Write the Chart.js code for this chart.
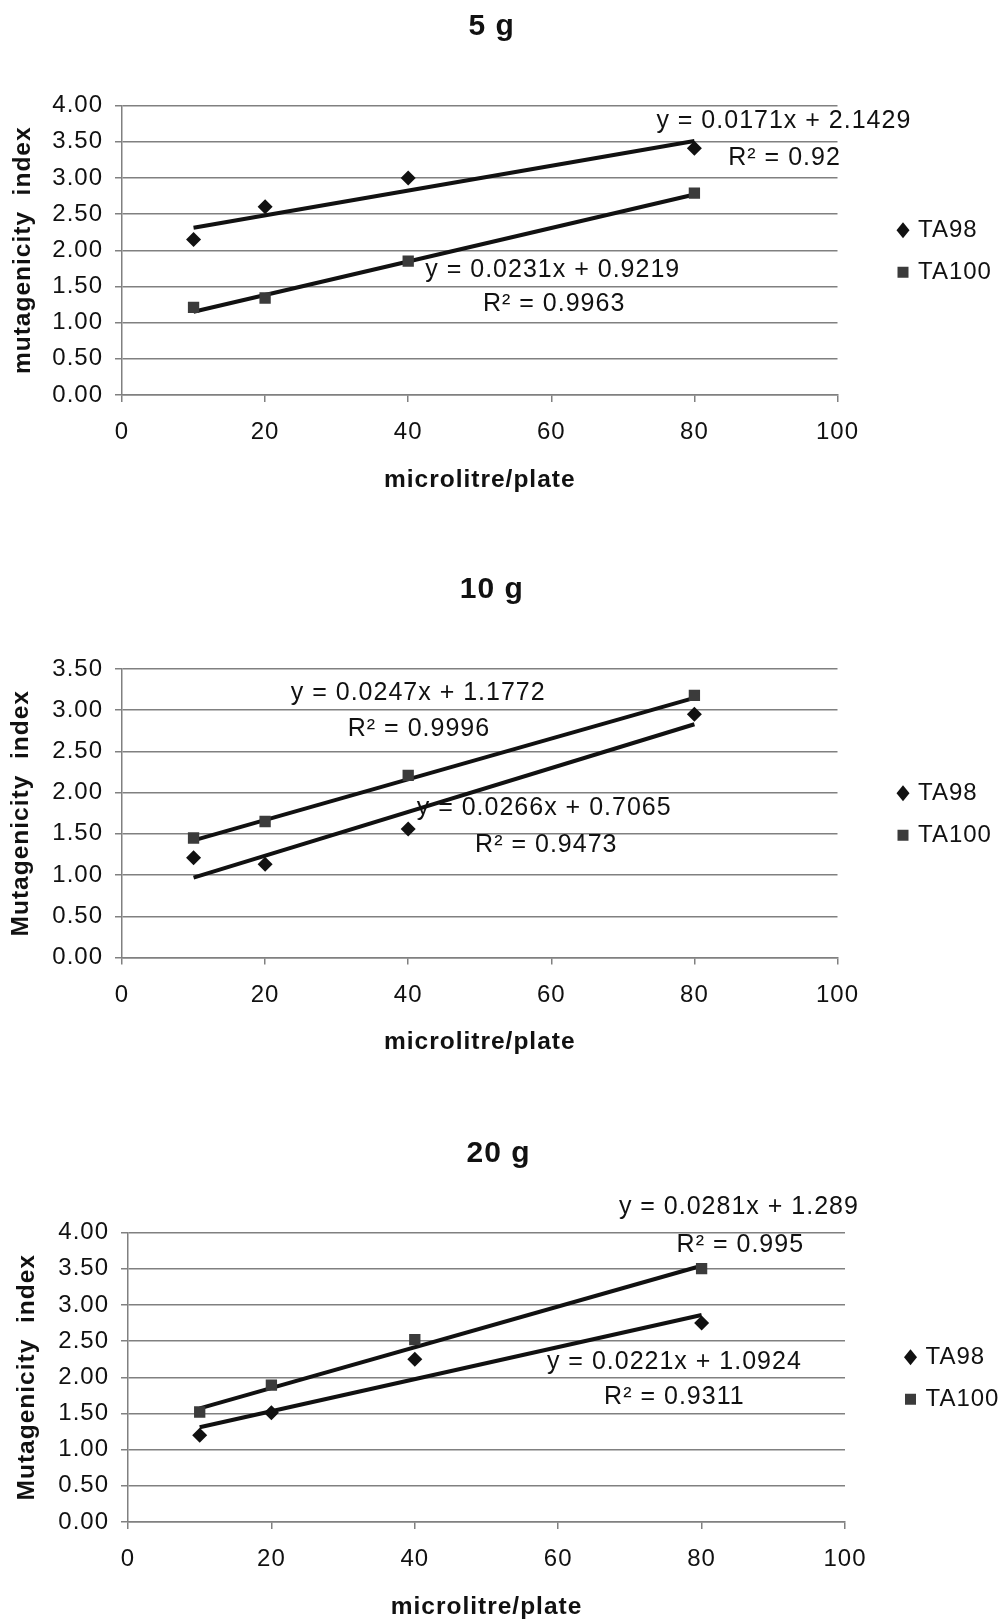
<!DOCTYPE html>
<html lang="en">
<head>
<meta charset="UTF-8" />
<title>Mutagenicity index - 5 g, 10 g, 20 g</title>
<script src="https://cdn.jsdelivr.net/npm/chart.js"></script>
<style>
  body { margin: 0; background: #fff; }
  #page { position: relative; width: 1001px; height: 1621px; }
  canvas { position: absolute; left: 0; }
</style>
</head>
<body>
<div id="page">
  <canvas id="chart5" width="1001" height="545" style="top:0"></canvas>
  <canvas id="chart10" width="1001" height="540" style="top:545px"></canvas>
  <canvas id="chart20" width="1001" height="536" style="top:1085px"></canvas>
</div>
<script>
// doses on the x axis and the two ends of each fitted line
const doses = [10, 20, 40, 80];
const trendX = [10, 80];
const seriesNames = ['TA98', 'TA100'];

// 5 g
const ta98_5g = [2.15, 2.60, 3.00, 3.41];
const ta100_5g = [1.21, 1.34, 1.85, 2.79];
const trend98_5g = [2.31, 3.51];
const trend100_5g = [1.15, 2.77];
const eqs_5g = ['y = 0.0171x + 2.1429', 'R\u00b2 = 0.92', 'y = 0.0231x + 0.9219', 'R\u00b2 = 0.9963'];

// 10 g
const ta98_10g = [1.21, 1.13, 1.56, 2.95];
const ta100_10g = [1.45, 1.65, 2.21, 3.18];
const trend98_10g = [0.97, 2.83];
const trend100_10g = [1.42, 3.15];
const eqs_10g = ['y = 0.0247x + 1.1772', 'R\u00b2 = 0.9996', 'y = 0.0266x + 0.7065', 'R\u00b2 = 0.9473'];

// 20 g
const ta98_20g = [1.20, 1.51, 2.25, 2.75];
const ta100_20g = [1.52, 1.89, 2.52, 3.50];
const trend98_20g = [1.31, 2.86];
const trend100_20g = [1.57, 3.54];
const eqs_20g = ['y = 0.0281x + 1.289', 'R\u00b2 = 0.995', 'y = 0.0221x + 1.0924', 'R\u00b2 = 0.9311'];

const FONT = '"Liberation Sans", Arial, Helvetica, sans-serif';
const INK = '#111';
const GRID = '#808080';
const SPACING = '1px';

Chart.defaults.font.family = FONT;
Chart.defaults.color = INK;

function pts(xs, ys) {
    return xs.map((x, i) => ({ x: x, y: ys[i] }));
}

// title, trendline equations and the legend are drawn here
const overlay = {
    id: 'overlay',
    beforeDraw(chart) {
        chart.ctx.letterSpacing = SPACING;
    },
    afterDraw(chart, args, opts) {
        const ctx = chart.ctx;
        const a = chart.chartArea;
        const x = chart.scales.x, y = chart.scales.y;
        ctx.save();
        ctx.letterSpacing = SPACING;
        ctx.fillStyle = INK;
        ctx.textBaseline = 'middle';
        ctx.textAlign = 'center';

        ctx.font = 'bold 30px ' + FONT;
        ctx.fillText(opts.title, (a.left + a.right) / 2 + 12, a.top - 79);

        ctx.font = '25px ' + FONT;
        opts.notes.forEach(n => {
            ctx.fillText(n.text, x.getPixelForValue(n.x), y.getPixelForValue(n.y));
        });

        // legend
        const mid = (a.top + a.bottom) / 2;
        const mx = a.right + 65.5;
        ctx.font = '24px ' + FONT;
        ctx.textAlign = 'left';
        chart.data.datasets.filter(d => !d.showLine).forEach((d, i) => {
            const ly = mid + (i === 0 ? -20 : 22);
            ctx.fillStyle = d.backgroundColor;
            ctx.beginPath();
            if (d.pointStyle === 'rectRot') {
                ctx.moveTo(mx, ly - 8);
                ctx.lineTo(mx + 6.5, ly);
                ctx.lineTo(mx, ly + 8);
                ctx.lineTo(mx - 6.5, ly);
                ctx.closePath();
            } else {
                ctx.rect(mx - 5.5, ly - 5.5, 11, 11);
            }
            ctx.fill();
            ctx.fillStyle = INK;
            ctx.fillText(d.label, a.right + 80.5, ly);
        });
        ctx.restore();
    }
};

function makeChart(id, o) {
    return new Chart(document.getElementById(id), {
        type: 'scatter',
        data: {
            datasets: [
                {
                    label: seriesNames[0],
                    data: pts(doses, o.ta98),
                    pointStyle: 'rectRot',
                    pointRadius: 7.5,
                    backgroundColor: '#111',
                    borderColor: '#111',
                    borderWidth: 0,
                    order: 1
                },
                {
                    label: seriesNames[1],
                    data: pts(doses, o.ta100),
                    pointStyle: 'rect',
                    pointRadius: 8,
                    backgroundColor: '#3b3b3b',
                    borderColor: '#3b3b3b',
                    borderWidth: 0,
                    order: 1
                },
                {
                    label: 'Linear (TA98)',
                    data: pts(trendX, o.trend98),
                    showLine: true,
                    pointRadius: 0,
                    borderColor: '#111',
                    borderWidth: 4,
                    order: 2
                },
                {
                    label: 'Linear (TA100)',
                    data: pts(trendX, o.trend100),
                    showLine: true,
                    pointRadius: 0,
                    borderColor: '#111',
                    borderWidth: 4,
                    order: 2
                }
            ]
        },
        options: {
            responsive: false,
            animation: false,
            events: [],
            devicePixelRatio: 1,
            layout: { padding: o.pad },
            plugins: {
                legend: { display: false },
                title: { display: false },
                tooltip: { enabled: false },
                overlay: { title: o.title, notes: o.notes }
            },
            scales: {
                x: {
                    type: 'linear',
                    min: 0,
                    max: 100,
                    afterFit: s => { s.height = 97; },
                    ticks: { stepSize: 20, padding: 16, color: INK, font: { size: 24 } },
                    grid: { drawOnChartArea: false, tickLength: 7, color: GRID, lineWidth: 1.5 },
                    border: { color: GRID, width: 1.5 },
                    title: {
                        display: true,
                        text: 'microlitre/plate',
                        color: INK,
                        padding: 0,
                        font: { size: 24.5, weight: 'bold', lineHeight: 1 }
                    }
                },
                y: {
                    min: 0,
                    max: o.yMax,
                    afterFit: s => { s.width = o.yWidth; },
                    ticks: {
                        stepSize: 0.5,
                        padding: 12,
                        color: INK,
                        font: { size: 24 },
                        callback: v => v.toFixed(2)
                    },
                    grid: { tickLength: 7, color: GRID, lineWidth: 1.5 },
                    border: { color: GRID, width: 1.5 },
                    title: {
                        display: true,
                        text: o.yTitle,
                        color: INK,
                        padding: { top: o.yTitlePad, bottom: 0 },
                        font: { size: 24.5, weight: 'bold', lineHeight: 1 }
                    }
                }
            }
        },
        plugins: [overlay]
    });
}

makeChart('chart5', {
    title: '5 g',
    ta98: ta98_5g, ta100: ta100_5g, trend98: trend98_5g, trend100: trend100_5g,
    yMax: 4, yTitle: 'mutagenicity  index', yWidth: 122, yTitlePad: 10.5,
    pad: { left: 0, right: 163.5, top: 105.5, bottom: 53 },
    notes: [
        { text: eqs_5g[0], x: 92.5, y: 3.79 },
        { text: eqs_5g[1], x: 92.6, y: 3.28 },
        { text: eqs_5g[2], x: 60.2, y: 1.73 },
        { text: eqs_5g[3], x: 60.4, y: 1.25 }
    ]
});

makeChart('chart10', {
    title: '10 g',
    ta98: ta98_10g, ta100: ta100_10g, trend98: trend98_10g, trend100: trend100_10g,
    yMax: 3.5, yTitle: 'Mutagenicity  index', yWidth: 122, yTitlePad: 8.5,
    pad: { left: 0, right: 163.5, top: 124, bottom: 30.5 },
    notes: [
        { text: eqs_10g[0], x: 41.4, y: 3.21 },
        { text: eqs_10g[1], x: 41.5, y: 2.77 },
        { text: eqs_10g[2], x: 59.0, y: 1.81 },
        { text: eqs_10g[3], x: 59.3, y: 1.365 }
    ]
});

makeChart('chart20', {
    title: '20 g',
    ta98: ta98_20g, ta100: ta100_20g, trend98: trend98_20g, trend100: trend100_20g,
    yMax: 4, yTitle: 'Mutagenicity  index', yWidth: 128, yTitlePad: 14.5,
    pad: { left: 0, right: 156, top: 147.5, bottom: 2 },
    notes: [
        { text: eqs_20g[0], x: 85.2, y: 4.35 },
        { text: eqs_20g[1], x: 85.4, y: 3.83 },
        { text: eqs_20g[2], x: 76.2, y: 2.21 },
        { text: eqs_20g[3], x: 76.2, y: 1.72 }
    ]
});
</script>
</body>
</html>
